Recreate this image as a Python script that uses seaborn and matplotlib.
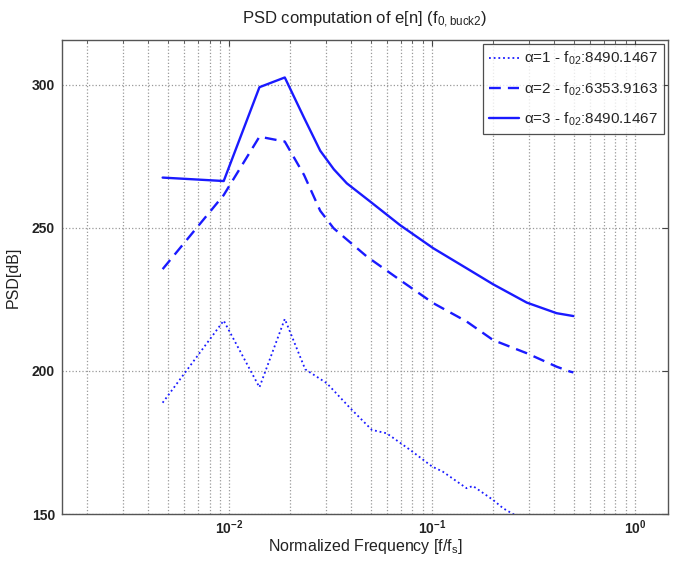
import matplotlib
matplotlib.use("Agg")
import matplotlib.pyplot as plt
import matplotlib.ticker as mticker
import seaborn as sns
import pandas as pd

# ---- data ----
freq_a1 = [0.0047, 0.0094, 0.0141, 0.0188, 0.0237, 0.0303, 0.0395, 0.0505, 0.0598,
           0.078, 0.100, 0.113, 0.148, 0.159, 0.200, 0.224, 0.255, 0.280]
psd_a1 = [188.9, 217.6, 194.3, 218.2, 200.6, 195.7, 187.0, 179.4, 178.2,
          172.4, 166.6, 164.8, 159.0, 159.8, 154.9, 152.0, 149.7, 147.5]

freq_a2 = [0.0047, 0.0094, 0.0141, 0.0188, 0.0234, 0.0281, 0.0327, 0.0477, 0.0695,
           0.1014, 0.148, 0.200, 0.293, 0.411, 0.478, 0.497]
psd_a2 = [235.6, 261.5, 281.9, 280.2, 268.5, 256.0, 249.9, 240.0, 231.8,
          223.7, 217.3, 210.8, 206.2, 201.5, 199.8, 199.5]

freq_a3 = [0.0047, 0.0094, 0.0141, 0.0188, 0.0234, 0.0281, 0.0328, 0.038, 0.0496,
           0.0695, 0.1014, 0.148, 0.200, 0.293, 0.411, 0.497]
psd_a3 = [267.6, 266.4, 299.2, 302.6, 288.5, 277.0, 270.5, 265.6, 259.2,
          251.0, 242.9, 235.9, 230.3, 223.9, 220.2, 219.2]

labels = [r"α=1 - f$\mathregular{_{02}}$:8490.1467",
          r"α=2 - f$\mathregular{_{02}}$:6353.9163",
          r"α=3 - f$\mathregular{_{02}}$:8490.1467"]
yticks = [150, 200, 250, 300]
title = r"PSD computation of e[n] (f$\mathregular{_{0,buck2}}$)"
xlabel = r"Normalized Frequency [f/f$\mathregular{_s}$]"
ylabel = "PSD[dB]"

sns.set_theme(style="white")
plt.rcParams["font.family"] = ["Liberation Sans", "DejaVu Sans"]
plt.rcParams["mathtext.fontset"] = "custom"
plt.rcParams["mathtext.rm"] = "Liberation Sans"

fig = plt.figure(figsize=(6.77, 5.61), dpi=100)
W, H = 677, 561
ax = fig.add_axes([62 / W, 1 - 514 / H, 606 / W, 474 / H])

blue = "#1a1aff"
series = [(freq_a1, psd_a1, (0, (1, 1.6)), 1.3, labels[0]),
          (freq_a2, psd_a2, (0, (5, 3)), 1.7, labels[1]),
          (freq_a3, psd_a3, "-", 1.7, labels[2])]
for fx, py, ls, lw, lab in series:
    df = pd.DataFrame({"f": fx, "psd": py})
    sns.lineplot(data=df, x="f", y="psd", ax=ax, color=blue, linestyle=ls,
                 linewidth=lw, label=lab, sort=False, estimator=None)

ax.set_xscale("log")
ax.set_xlim(0.0015, 1.455)
ax.set_ylim(150, 315.7)
ax.set_yticks(yticks)
ax.xaxis.set_major_locator(mticker.LogLocator(base=10, numticks=10))
ax.xaxis.set_minor_locator(mticker.LogLocator(base=10, subs=range(2, 10), numticks=20))
ax.xaxis.set_minor_formatter(mticker.NullFormatter())

ax.grid(True, which="major", axis="both", linestyle=":", color="#999999", linewidth=0.9)
ax.grid(True, which="minor", axis="x", linestyle=":", color="#999999", linewidth=0.9)

ax.tick_params(which="both", direction="in", top=True, right=True, color="#444444")
ax.tick_params(which="major", length=4, width=0.8, labelsize=10)
ax.tick_params(axis="x", which="major", pad=3)
ax.tick_params(axis="y", which="major", pad=5)
ax.tick_params(which="minor", length=2.5, width=0.6)
for lbl in ax.get_yticklabels() + ax.get_xticklabels():
    lbl.set_fontweight("bold")
    lbl.set_color("#222222")

for s in ax.spines.values():
    s.set_color("#555555")
    s.set_linewidth(1.0)

ax.set_title(title, fontsize=12, pad=12, color="#222222")
ax.set_xlabel(xlabel, fontsize=11.5, labelpad=0, color="#222222")
ax.set_ylabel(ylabel, fontsize=11.5, labelpad=8, color="#222222")

leg = ax.legend(loc="upper right", fontsize=11, frameon=True, fancybox=False,
                borderaxespad=0.25, handlelength=2.0, handletextpad=0.3,
                labelspacing=0.85, borderpad=0.4)
leg.get_frame().set_edgecolor("#222222")
leg.get_frame().set_linewidth(0.9)

fig.savefig("out.png", dpi=100)
